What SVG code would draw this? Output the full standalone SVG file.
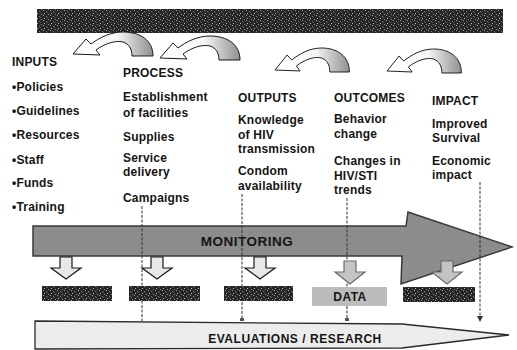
<svg xmlns="http://www.w3.org/2000/svg" width="517" height="350" viewBox="0 0 517 350">
<style>
  text { font-family: "Liberation Sans", Arial, sans-serif; font-weight: bold; fill: #151515; }
  .t { font-size: 12px; letter-spacing: 0.2px; }
  .curl { fill: url(#curlGrad); stroke: #1a1a1a; stroke-width: 1; stroke-linejoin: round; }
  .down1 { fill: #e8e8e8; stroke: #1a1a1a; stroke-width: 1.2; }
  .down2 { fill: #c4c4c4; stroke: #6a6a6a; stroke-width: 1.2; }
  .blk { fill: url(#noise); }
  .dash { fill: none; stroke: #333; stroke-width: 1; stroke-dasharray: 3 1.5; }
</style>
<defs>
  <pattern id="noise" width="7" height="5" patternUnits="userSpaceOnUse">
    <rect width="7" height="5" fill="#262626"/>
    <rect x="1" y="0" width="1" height="1" fill="#a0a0a0"/>
    <rect x="4" y="1" width="1" height="1" fill="#7a7a7a"/>
    <rect x="2" y="3" width="1" height="1" fill="#bdbdbd"/>
    <rect x="6" y="4" width="1" height="1" fill="#8a8a8a"/>
    <rect x="5" y="2" width="1" height="1" fill="#5a5a5a"/>
  </pattern>
  <linearGradient id="curlGrad" x1="0" y1="0" x2="1" y2="0">
    <stop offset="0" stop-color="#ffffff"/>
    <stop offset="0.55" stop-color="#f6f6f6"/>
    <stop offset="0.75" stop-color="#c8c8c8"/>
    <stop offset="1" stop-color="#8f8f8f"/>
  </linearGradient>
  <path id="curl" d="M80 23 C80 7 67 -1 50 -1 C37 -1 26 5 18 11 L13 6 L0 21 L27 22 L23 17 C31 11 42 7 50 9 C56 11 59 16 59 23 Z"/>
  <marker id="tipDown" markerWidth="6" markerHeight="6" refX="3" refY="3" orient="auto" markerUnits="userSpaceOnUse">
    <path d="M0 0 L6 3 L0 6 Z" fill="#333"/>
  </marker>
</defs>
<rect width="517" height="350" fill="#ffffff"/>

<g id="banner">
  <rect x="37" y="9" width="466" height="24" class="blk"/>
</g>

<g id="curl-arrows">
  <use href="#curl" class="curl" transform="translate(73 33)"/>
  <use href="#curl" class="curl" transform="translate(160 37)"/>
  <use href="#curl" class="curl" transform="translate(275 49) scale(0.93 1)"/>
  <use href="#curl" class="curl" transform="translate(387 50) scale(0.93 1)"/>
</g>

<g id="inputs">
  <text class="t" x="12" y="66" letter-spacing="0.5">INPUTS</text>
  <text class="t" x="12" y="91">•Policies</text>
  <text class="t" x="12" y="115">•Guidelines</text>
  <text class="t" x="12" y="139">•Resources</text>
  <text class="t" x="12" y="164">•Staff</text>
  <text class="t" x="12" y="187">•Funds</text>
  <text class="t" x="12" y="211">•Training</text>
</g>

<g id="process">
  <text class="t" x="123" y="77" letter-spacing="0.5">PROCESS</text>
  <text class="t" x="123" y="101">Establishment</text>
  <text class="t" x="123" y="117">of facilities</text>
  <text class="t" x="123" y="141">Supplies</text>
  <text class="t" x="123" y="162">Service</text>
  <text class="t" x="123" y="176">delivery</text>
  <text class="t" x="123" y="202">Campaigns</text>
</g>

<g id="outputs">
  <text class="t" x="238" y="102" letter-spacing="0.5">OUTPUTS</text>
  <text class="t" x="238" y="124">Knowledge</text>
  <text class="t" x="238" y="139">of HIV</text>
  <text class="t" x="238" y="153">transmission</text>
  <text class="t" x="238" y="175">Condom</text>
  <text class="t" x="238" y="190">availability</text>
</g>

<g id="outcomes">
  <text class="t" x="334" y="102" letter-spacing="0.5">OUTCOMES</text>
  <text class="t" x="334" y="123">Behavior</text>
  <text class="t" x="334" y="138">change</text>
  <text class="t" x="334" y="165">Changes in</text>
  <text class="t" x="334" y="180">HIV/STI</text>
  <text class="t" x="334" y="194">trends</text>
</g>

<g id="impact">
  <text class="t" x="432" y="105" letter-spacing="0.5">IMPACT</text>
  <text class="t" x="432" y="128">Improved</text>
  <text class="t" x="432" y="142">Survival</text>
  <text class="t" x="432" y="165">Economic</text>
  <text class="t" x="432" y="179">impact</text>
</g>

<g id="monitoring">
  <path d="M33 226 L406 226 L408 212 L512 247 L401 284 L402 256 L33 256 Z" fill="#8c8c8c" stroke="#3a3a3a" stroke-width="1.5" stroke-linejoin="miter"/>
  <text x="247" y="246" font-size="13.5" letter-spacing="0.5" text-anchor="middle" fill="#1e1e1e">MONITORING</text>
</g>

<g id="connectors">
  <path class="dash" d="M142 206 V321"/>
  <path class="dash" d="M242 194 V321"/>
  <path class="dash" d="M347 198 V321"/>
  <path class="dash" d="M480 182 V319" marker-end="url(#tipDown)"/>
  <rect x="240" y="318" width="4" height="3" fill="#555"/>
  <rect x="345" y="318" width="4" height="3" fill="#555"/>
</g>

<g id="down-arrows">
  <path class="down1" d="M60 257 H72 V268 H81 L66 279 L51 268 H60 Z"/>
  <path class="down1" d="M151 257 H163 V268 H172 L157 279 L142 268 H151 Z"/>
  <path class="down1" d="M254 257 H266 V268 H275 L260 279 L245 268 H254 Z"/>
  <path class="down2" d="M344 261 H356 V272 H365 L350 284 L335 272 H344 Z"/>
  <path class="down2" d="M441 261 H453 V272 H462 L447 284 L432 272 H441 Z"/>
</g>

<g id="boxes">
  <rect x="42" y="286" width="70" height="15" class="blk"/>
  <rect x="129" y="286" width="71" height="15" class="blk"/>
  <rect x="224" y="286" width="69" height="15" class="blk"/>
  <rect x="403" y="287" width="72" height="15" class="blk"/>
</g>

<g id="data">
  <rect x="312" y="287" width="75" height="19" fill="#bcbcbc"/>
  <text x="350" y="301" font-size="12" letter-spacing="0.5" text-anchor="middle" fill="#4a4a4a">DATA</text>
</g>

<g id="evaluations">
  <path d="M35 321 L402 324 L509 335 L402 348 L35 349 Z" fill="#ececec" stroke="#2a2a2a" stroke-width="1.3" stroke-linejoin="miter"/>
  <text x="295" y="343" font-size="12" letter-spacing="0.55" text-anchor="middle" fill="#3a3a3a">EVALUATIONS / RESEARCH</text>
</g>
</svg>
